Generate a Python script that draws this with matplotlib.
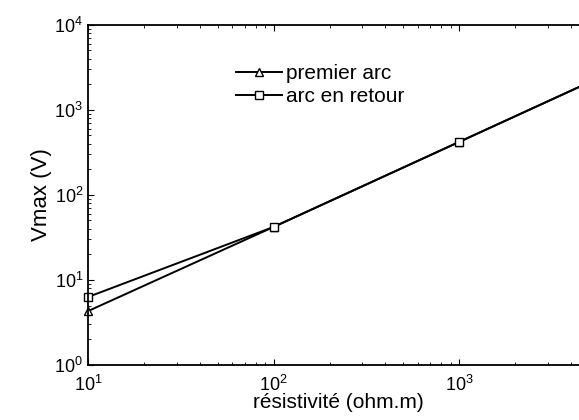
import matplotlib
matplotlib.use("Agg")
import matplotlib.pyplot as plt

plt.rcParams["font.family"] = ["Liberation Sans", "DejaVu Sans"]

# Values
resistivity = [10, 100, 1000, 5000]
premier_arc = [4.3, 42, 420, 2100]
arc_retour = [6.3, 42, 420, 2100]

fig = plt.figure(figsize=(5.79, 4.2), dpi=100)
# right spine sits just past the edge of the cropped original
ax = fig.add_axes([88 / 579, 0.131, (589 - 88) / 579, 0.81])

ax.loglog(resistivity, premier_arc, color="black", lw=1.4, clip_on=False,
          marker="^", mfc="white", mec="black", ms=6, label="premier arc")
ax.loglog(resistivity, arc_retour, color="black", lw=1.4, clip_on=False,
          marker="s", mfc="white", mec="black", ms=5.5, label="arc en retour")

ax.set_xlim(10, 5000)
ax.set_ylim(1, 1e4)

ax.tick_params(which="both", direction="in", top=True, right=True,
               labelsize=13)
ax.tick_params(axis="x", which="major", pad=7)
ax.tick_params(which="major", length=4)
ax.tick_params(which="minor", length=2)
for sp in ax.spines.values():
    sp.set_linewidth(1.3)

ax.set_xlabel("résistivité (ohm.m)", fontsize=15, labelpad=-1)
ax.set_ylabel("Vmax (V)", fontsize=16, labelpad=2)

ax.legend(loc="center left", bbox_to_anchor=(228 / 579, 1 - 85 / 420),
          bbox_transform=fig.transFigure, frameon=False, fontsize=15,
          handlelength=2.2, handletextpad=0.2, labelspacing=0.2,
          borderaxespad=0)

fig.savefig("out.png", dpi=100)
